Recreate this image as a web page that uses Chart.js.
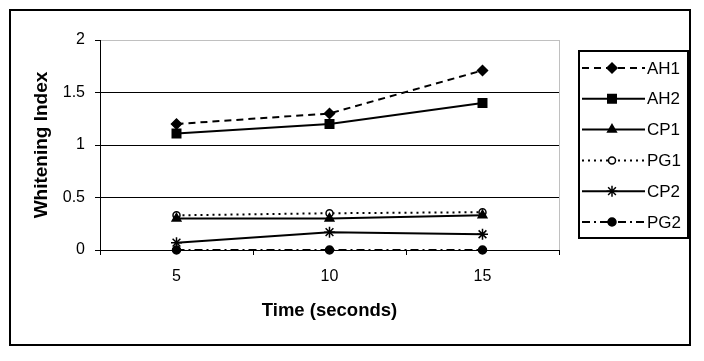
<!DOCTYPE html>
<html lang="en">
<head>
    <meta charset="UTF-8">
    <title>Whitening Index vs Time</title>
    <script src="https://cdn.jsdelivr.net/npm/chart.js"></script>
    <style>
        body { margin: 0; background: #fff; }
        #grafico { display: block; }
    </style>
</head>
<body>
    <canvas id="grafico" width="704" height="361"></canvas>

<script>
// dados
var tempos = ['5', '10', '15'];
var serieAH1 = [1.2, 1.3, 1.71];
var serieAH2 = [1.11, 1.2, 1.4];
var serieCP1 = [0.30, 0.30, 0.33];
var seriePG1 = [0.33, 0.35, 0.36];
var serieCP2 = [0.07, 0.17, 0.15];
var seriePG2 = [0.0, 0.0, 0.0];
var tituloX = 'Time (seconds)';
var tituloY = 'Whitening Index';

var fonte = '"Liberation Sans", Arial, sans-serif';

function serie(label, data, dash, style, raio, fundo) {
    return {
        label: label,
        data: data,
        borderColor: '#000',
        borderWidth: 2,
        borderDash: dash,
        pointStyle: style,
        pointRadius: raio,
        pointHoverRadius: raio,
        pointBackgroundColor: fundo,
        pointBorderColor: '#000',
        pointBorderWidth: 1.5,
        tension: 0,
        clip: false
    };
}

// moldura externa, borda cinza da area do grafico e legenda desenhada a mao
const molduraPlugin = {
    id: 'moldura',
    afterDraw(chart) {
        const ctx = chart.ctx;
        const area = chart.chartArea;
        ctx.save();
        // borda cinza (direita)
        ctx.strokeStyle = '#c0c0c0';
        ctx.lineWidth = 1;
        ctx.beginPath();
        ctx.moveTo(area.right + 0.5, area.top);
        ctx.lineTo(area.right + 0.5, area.bottom);
        ctx.stroke();

        // moldura externa
        ctx.strokeStyle = '#000';
        ctx.lineWidth = 2;
        ctx.strokeRect(10, 10, 680, 335);

        // legenda
        ctx.strokeRect(579, 51, 109, 187);
        chart.data.datasets.forEach(function (ds, i) {
            var y = 68 + i * 30.8;
            ctx.strokeStyle = '#000';
            ctx.lineWidth = ds.borderWidth;
            ctx.setLineDash(ds.borderDash || []);
            ctx.beginPath();
            ctx.moveTo(582, y);
            ctx.lineTo(645, y);
            ctx.stroke();
            ctx.setLineDash([]);
            ctx.fillStyle = ds.pointBackgroundColor;
            ctx.lineWidth = ds.pointBorderWidth;
            Chart.helpers.drawPoint(ctx, {
                pointStyle: ds.pointStyle,
                radius: ds.pointRadius,
                rotation: 0,
                borderWidth: ds.pointBorderWidth
            }, 612, y);
            ctx.fillStyle = '#000';
            ctx.font = '17px ' + fonte;
            ctx.textBaseline = 'middle';
            ctx.textAlign = 'left';
            ctx.fillText(ds.label, 647, y + 1);
        });
        ctx.restore();
    }
};

const config = {
    type: 'line',
    data: {
        labels: tempos,
        datasets: [
            serie('AH1', serieAH1, [7, 5], 'rectRot', 5, '#000'),
            serie('AH2', serieAH2, [], 'rect', 6, '#000'),
            serie('CP1', serieCP1, [], 'triangle', 5, '#000'),
            serie('PG1', seriePG1, [2, 4], 'circle', 3.5, '#fff'),
            serie('CP2', serieCP2, [], 'star', 5.5, '#000'),
            serie('PG2', seriePG2, [8, 4, 2, 4], 'circle', 4, '#000')
        ]
    },
    options: {
        responsive: false,
        animation: false,
        layout: { padding: { top: 40, right: 145, left: 0, bottom: 0 } },
        plugins: {
            legend: { display: false },
            tooltip: { enabled: false }
        },
        scales: {
            x: {
                type: 'category',
                offset: true,
                grid: {
                    offset: true,
                    drawOnChartArea: false,
                    drawTicks: true,
                    tickLength: 5,
                    tickColor: '#000'
                },
                border: { color: '#000', width: 1 },
                ticks: {
                    color: '#000',
                    padding: 12,
                    font: { family: fonte, size: 16 }
                },
                title: {
                    display: true,
                    text: tituloX,
                    color: '#000',
                    padding: { top: 0, bottom: 39 },
                    font: { family: fonte, size: 18.5, weight: 'bold' }
                },
                afterFit(scale) { scale.height = 111; }
            },
            y: {
                min: 0,
                max: 2,
                ticks: {
                    stepSize: 0.5,
                    color: '#000',
                    padding: 10,
                    font: { family: fonte, size: 16 },
                    callback: function (v) { return String(v); }
                },
                grid: {
                    color: function (c) { return c.tick && c.tick.value === 2 ? '#c0c0c0' : '#000'; },
                    tickColor: '#000',
                    tickLength: 5,
                    lineWidth: 1
                },
                border: { color: '#000', width: 1 },
                title: {
                    display: true,
                    text: tituloY,
                    color: '#000',
                    padding: { top: 30, bottom: 0 },
                    font: { family: fonte, size: 19, weight: 'bold' }
                },
                afterFit(scale) { scale.width = 100; }
            }
        }
    },
    plugins: [molduraPlugin]
};

let grafico = new Chart(document.getElementById('grafico'), config);
</script>
</body>
</html>
